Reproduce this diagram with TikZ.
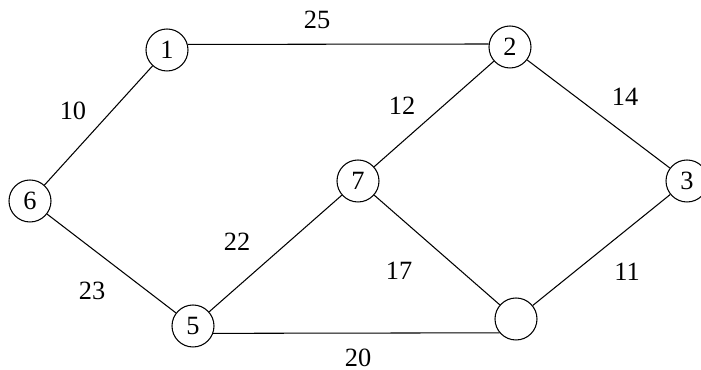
\documentclass[tikz,border=0pt]{standalone}
\usepackage{fontspec}
\setmainfont{Liberation Serif}
\usepackage{tikz}
\usetikzlibrary{positioning}

\begin{document}
\begin{tikzpicture}[vtx/.style={circle, draw, line width=0.6pt, minimum size=0.84cm, inner sep=0pt},
    wt/.style={inner sep=1pt},
    every node/.style={font=\fontsize{15}{18}\selectfont},
    line width=0.6pt]
        \useasboundingbox (0,0) rectangle (14.02,7.40);
        % vertices
        \node[vtx] (n1) at (3.34,6.40) {1};
        \node[vtx] (n2) at (10.20,6.46) {2};
        \node[vtx] (n3) at (13.74,3.78) {3};
        \node[vtx] (n4) at (10.32,1.02) {};
        \node[vtx] (n5) at (3.86,0.88) {5};
        \node[vtx] (n6) at (0.60,3.38) {6};
        \node[vtx] (n7) at (7.16,3.78) {7};

        % edges
        \draw (n1.15) -- (n2.172);
        \draw (n1) -- (n6);
        \draw (n2) -- (n7);
        \draw (n2) -- (n3);
        \draw (n6) -- (n5);
        \draw (n5) -- (n7);
        \draw (n7) -- (n4);
        \draw (n3) -- (n4);
        \draw (n5.-20) -- (n4.220);

        % weights
        \node[wt] (w12) at (6.34,7.00) {25};
        \node[wt] (w16) at (1.46,5.18) {10};
        \node[wt] (w27) at (8.04,5.28) {12};
        \node[wt] (w23) at (12.50,5.46) {14};
        \node[wt] (w57) at (4.74,2.56) {22};
        \node[wt] (w56) at (1.84,1.58) {23};
        \node[wt] (w74) at (7.98,1.98) {17};
        \node[wt] (w34) at (12.54,1.96) {11};
        \node[wt] (w54) at (7.16,0.24) {20};
    \end{tikzpicture}
\end{document}
